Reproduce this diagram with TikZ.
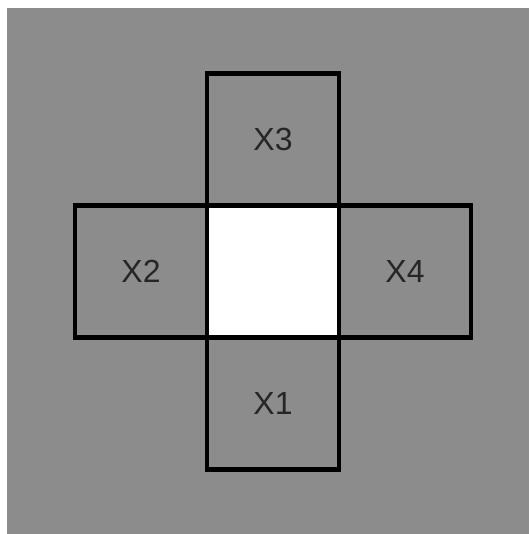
\documentclass[tikz,border=0pt]{standalone}
\usepackage{fontspec}
\setmainfont{Liberation Sans}
\usetikzlibrary{positioning}

\begin{document}
\begin{tikzpicture}[
  x=1pt, y=-1pt,
  node distance=0pt,
  cell/.style={draw, line width=4.5pt, minimum size=132pt, inner sep=0pt, outer sep=0pt, font=\fontsize{32}{32}\selectfont, text=black!85},
]
\useasboundingbox (0,0) rectangle (529,534);
% noisy background
\fill[black!45] (7,8) rectangle (529,534);

\node[cell, fill=white] (mid) at (273,271.5) {};
\node[cell, above=of mid] (x3) {X3};
\node[cell, left=of mid] (x2) {X2};
\node[cell, right=of mid] (x4) {X4};
\node[cell, below=of mid] (x1) {X1};
\end{tikzpicture}
\end{document}
